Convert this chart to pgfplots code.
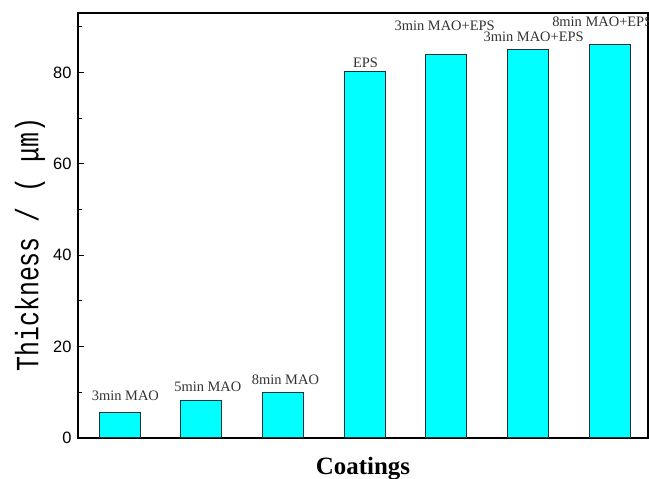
\documentclass[border=0pt]{standalone}
\usepackage{pgfplots}
\pgfplotsset{compat=1.18}
\usepackage{fontspec}
\setmainfont{Liberation Serif}
\newfontfamily\arialfont{Liberation Sans}
\newfontfamily\monofont{Liberation Mono}
\definecolor{barcyan}{RGB}{0,255,255}
\definecolor{baredge}{RGB}{20,50,55}
\begin{document}
\begin{tikzpicture}
\begin{axis}[
 scale only axis, width=570bp, height=425bp,
 xmin=0.49, xmax=7.47, ymin=0, ymax=93,
 xtick=\empty,
 ytick={0,20,40,60,80},
 minor ytick={10,30,50,70,90},
 ytick pos=left, tick align=inside,
 major tick length=6bp, minor tick length=4bp,
 axis line style={line width=1.5bp},
 every tick/.style={black, line width=1.2bp},
 tick label style={font=\arialfont\fontsize{16.5}{18}\selectfont},
 /pgf/number format/assume math mode=true,
 yticklabel style={xshift=-3bp},
 ylabel={\scalebox{1}[1.3]{\monofont\fontsize{25}{27}\selectfont Thickness / ( μm)}},
 ylabel style={at={(axis description cs:-0.0842,0.455)}, anchor=center},
 xlabel={\fontsize{25}{28}\selectfont\bfseries Coatings},
 xlabel style={at={(axis description cs:0.5,0)}, anchor=base, yshift=-37bp},
 clip=false,
 ybar, bar width=41bp,
]
\addplot[fill=barcyan, draw=baredge, line width=1bp] coordinates {(1,5.6) (2,8.1) (3,10.0) (4,80.2) (5,84.0) (6,85.0) (7,86.2)};
\begin{scope}[every node/.style={font=\fontsize{14.5}{16}\selectfont, text=black!80, inner sep=0pt}]
\node at (axis cs:1.07,9.3) {3min MAO};
\node at (axis cs:2.08,11.2) {5min MAO};
\node at (axis cs:3.03,12.8) {8min MAO};
\node at (axis cs:4.01,82.2) {EPS};
\node at (axis cs:4.98,90.3) {3min MAO+EPS};
\node at (axis cs:6.07,87.8) {3min MAO+EPS};
\node at (axis cs:6.91,91.0) {8min MAO+EPS};
\end{scope}
\end{axis}
\pgfresetboundingbox
\useasboundingbox ([xshift=-78bp,yshift=-41bp]current axis.south west) rectangle ([xshift=1bp,yshift=13bp]current axis.north east);
\end{tikzpicture}
\end{document}
